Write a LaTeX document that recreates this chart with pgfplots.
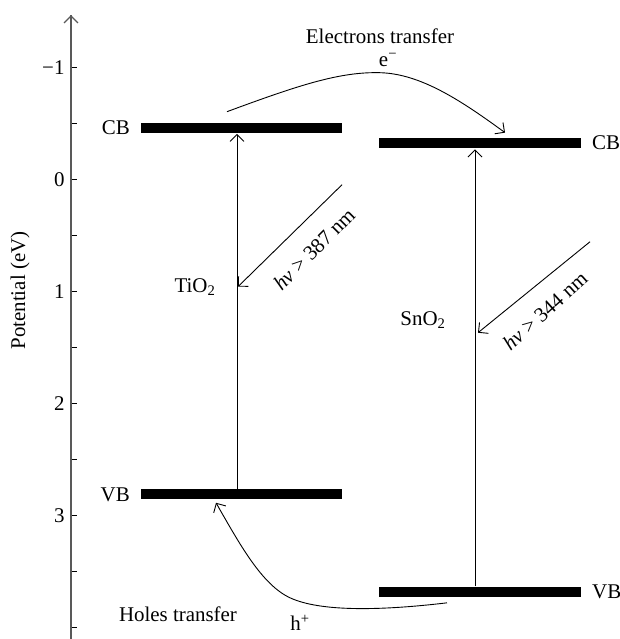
\documentclass[border=0pt]{standalone}
\usepackage{fontspec}
\setmainfont{Liberation Serif}
\usepackage{pgfplots}
\pgfplotsset{compat=1.18}
\usetikzlibrary{arrows.meta}
\begin{document}
\begin{tikzpicture}[font=\fontsize{21}{24}\selectfont, >={Straight Barb[length=7bp,width=14bp]}]
\useasboundingbox (0,0) rectangle (620bp,639bp);
\begin{axis}[
  at={(71bp,0bp)}, anchor=south west,
  scale only axis, width=549bp, height=624bp,
  xmin=71, xmax=620, ymin=-1.47, ymax=4.10,
  y dir=reverse,
  axis x line=none, axis y line*=left,
  y axis line style={black!65, line width=1.4bp},
  ytick={-1,-0.5,0,0.5,1,1.5,2,2.5,3,3.5,4},
  yticklabels={−1,,0,,1,,2,,3,,},
  tick align=inside,
  major tick length=6bp,
  ytick style={black, line width=1bp},
  yticklabel style={font=\fontsize{21}{24}\selectfont, xshift=-3bp},
  clip=false,
]
% bands
\addplot[black, line width=10bp, no markers] coordinates {(141,-0.464) (342,-0.464)};
\addplot[black, line width=10bp, no markers] coordinates {(141,2.81) (342,2.81)};
\addplot[black, line width=10bp, no markers] coordinates {(379,-0.326) (581,-0.326)};
\addplot[black, line width=10bp, no markers] coordinates {(379,3.68) (581,3.68)};
% axis arrow head
\draw[black!65, line width=1.4bp, ->] (axis cs:71,-1.2) -- (axis cs:71,-1.47);
% excitation arrows
\draw[->, line width=0.9bp] (axis cs:237,2.76) -- (axis cs:237,-0.41);
\draw[->, line width=0.9bp] (axis cs:475,3.63) -- (axis cs:475,-0.27);
% light arrows
\draw[->, line width=0.9bp] (axis cs:342,0.045) -- (axis cs:238,0.955);
\draw[->, line width=0.9bp] (axis cs:590,0.554) -- (axis cs:478,1.366);
% electron transfer curve
\draw[->, line width=0.9bp] (axis cs:227,-0.607) .. controls (axis cs:300,-0.848) and (axis cs:340,-0.964) .. (axis cs:380,-0.955) .. controls (axis cs:420,-0.946) and (axis cs:460,-0.714) .. (axis cs:505,-0.42);
% hole transfer curve
\draw[->, line width=0.9bp] (axis cs:447,3.777) .. controls (axis cs:380,3.848) and (axis cs:320,3.857) .. (axis cs:290,3.732) .. controls (axis cs:262,3.616) and (axis cs:240,3.259) .. (axis cs:216,2.884);
% labels
\node[anchor=east, inner sep=0pt] at (axis cs:130,-0.464) {CB};
\node[anchor=east, inner sep=0pt] at (axis cs:130,2.81) {VB};
\node[anchor=west, inner sep=0pt] at (axis cs:592,-0.326) {CB};
\node[anchor=west, inner sep=0pt] at (axis cs:592,3.68) {VB};
\node at (axis cs:380,-1.277) {Electrons transfer};
\node at (axis cs:388,-1.07) {e\textsuperscript{−}};
\node at (axis cs:195,0.955) {TiO\textsubscript{2}};
\node at (axis cs:423,1.25) {SnO\textsubscript{2}};
\node[rotate=45] at (axis cs:314,0.62) {\textit{hν} > 387 nm};
\node[rotate=42] at (axis cs:545,1.17) {\textit{hν} > 344 nm};
\node at (axis cs:178,3.88) {Holes transfer};
\node at (axis cs:300,3.955) {h\textsuperscript{+}};
\node[rotate=90] at (axis cs:20,0.99) {Potential (eV)};
\end{axis}
\end{tikzpicture}
\end{document}
